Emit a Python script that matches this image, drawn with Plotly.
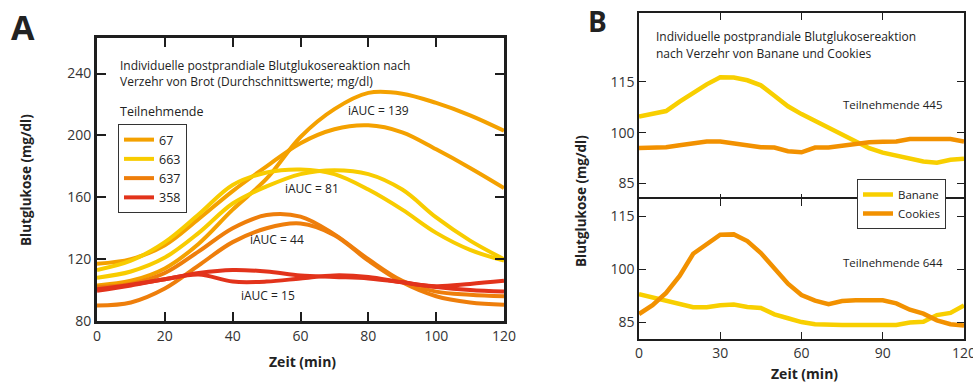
import plotly.graph_objects as go

W, H = 973, 382
FONT = "Open Sans"


def fx(px):
    return px / W


def fy(py):
    return 1 - py / H


# ---------------- Panel A data (mean glucose after bread) ----------------
t_a = [0, 10, 20, 30, 40, 50, 60, 70, 80, 90, 100, 110, 120]
p67_a = [103, 106, 114, 130, 152, 172, 199, 217, 227.5, 227, 221, 213, 203]
p67_b = [117, 120, 129, 146, 164, 180, 195, 204, 206.5, 202, 191, 179, 166]
p663_a = [113, 119, 131, 149, 168, 176, 178, 175, 165, 152, 137, 126, 119]
p663_b = [108, 112, 121, 137, 156, 167, 175, 177.5, 175, 165, 147, 132, 120]
p637_a = [102, 104, 111, 125, 140, 148.5, 147.5, 136, 120, 106, 99, 97, 96]
p637_b = [90, 92, 101, 116, 131, 140, 143, 135.5, 119, 105, 96, 92, 90.5]
p358_a = [100.5, 103.5, 107, 111, 113, 112, 109.5, 108.5, 107.5, 105, 102, 100, 99]
p358_b = [99.5, 103, 107, 110, 105.5, 105.5, 107.5, 109.5, 108.5, 105, 102.5, 104, 106]

series_a = [
    ("67", [p67_a, p67_b], "#F4A100"),
    ("663", [p663_a, p663_b], "#F8CC00"),
    ("637", [p637_a, p637_b], "#EE7E0B"),
    ("358", [p358_a, p358_b], "#E2331B"),
]

iauc_labels = ["iAUC = 139", "iAUC = 81", "iAUC = 44", "iAUC = 15"]
iauc_t = [83, 63.5, 53, 50.3]
iauc_g = [216, 165.6, 132.7, 96.8]

# ---------------- Panel B data (banana vs cookies) ----------------
t_b = [0, 5, 10, 15, 20, 25, 30, 35, 40, 45, 50, 55, 60, 65, 70, 75, 80, 85, 90,
       95, 100, 105, 110, 115, 120]
banane_445 = [104.8, 105.6, 106.4, 109.2, 111.9, 114.3, 116.4, 116.3, 115.5, 114.0,
              110.9, 107.8, 105.5, 103.5, 101.5, 99.3, 97.3, 95.4, 94.1, 93.2,
              92.4, 91.5, 91.1, 92.0, 92.3]
cookies_445 = [95.5, 95.6, 95.7, 96.3, 96.7, 97.4, 97.4, 96.8, 96.5, 95.7, 95.6,
               94.5, 94.2, 95.6, 95.6, 96.1, 96.6, 97.2, 97.3, 97.4, 98.1, 98.1,
               98.1, 98.1, 97.4]
banane_644 = [92.9, 91.9, 91.0, 90.1, 89.2, 89.2, 89.8, 90.0, 89.3, 89.0, 87.2,
              86.1, 85.0, 84.4, 84.2, 84.2, 84.2, 84.2, 84.2, 84.2, 84.9, 85.1,
              87.0, 87.6, 89.7]
cookies_644 = [87.3, 89.8, 93.3, 98.1, 104.4, 107.3, 109.8, 109.9, 108.0, 104.6,
               100.3, 95.9, 92.7, 91.1, 90.1, 91.0, 91.2, 91.2, 91.2, 90.3, 88.5,
               87.4, 85.5, 84.4, 84.0]
food_names = ["Banane", "Cookies"]
food_colors = ["#F8CF00", "#F29100"]

xticks_a = [0, 20, 40, 60, 80, 100, 120]
yticks_a = [80, 120, 160, 200, 240]
xticks_b = [0, 30, 60, 90, 120]
yticks_b = [85, 100, 115]

fig = go.Figure()

# Panel A traces
for name, curves, color in series_a:
    for i, vals in enumerate(curves):
        fig.add_trace(go.Scatter(
            x=t_a, y=vals, mode="lines", name=name, legendgroup=name,
            showlegend=(i == 0), line=dict(color=color, width=4, shape="spline"),
            xaxis="x", yaxis="y", legend="legend", hoverinfo="skip"))

# Panel B traces
for (bv, cv, ax) in [(banane_445, cookies_445, ("x2", "y2")),
                     (banane_644, cookies_644, ("x3", "y3"))]:
    for j, vals in enumerate([bv, cv]):
        fig.add_trace(go.Scatter(
            x=t_b, y=vals, mode="lines", name=food_names[j],
            legendgroup=food_names[j], showlegend=(ax[0] == "x2"),
            line=dict(color=food_colors[j], width=4.5),
            xaxis=ax[0], yaxis=ax[1], legend="legend2", hoverinfo="skip"))

ax_common = dict(showgrid=False, zeroline=False, ticks="inside", mirror="ticks",
                 showline=True, linecolor="#1e1e1e", tickcolor="#1e1e1e",
                 automargin=False, ticklabeloverflow="allow",
                 tickfont=dict(family=FONT, size=14, color="#333333"))

LW_B = 1.5
fig.update_layout(
    template="none",
    width=W, height=H, margin=dict(l=0, r=0, t=0, b=0, pad=0, autoexpand=False),
    paper_bgcolor="white", plot_bgcolor="white",
    font=dict(family=FONT, color="#222222"),
    xaxis=dict(domain=[fx(97), fx(504)], range=[0, 120], tickvals=xticks_a,
               anchor="y", linewidth=3, ticklen=9, tickwidth=1.5, **ax_common),
    yaxis=dict(domain=[fy(321), fy(38)], range=[80, 263], tickvals=yticks_a,
               anchor="x", linewidth=3, ticklen=9, tickwidth=1.5, **ax_common),
    xaxis2=dict(domain=[fx(639), fx(964)], range=[0, 120], tickvals=xticks_b,
                anchor="y2", showticklabels=False, linewidth=LW_B, ticklen=7,
                tickwidth=1.2, **ax_common),
    yaxis2=dict(domain=[fy(200.3), fy(13)], range=[80, 135.4], tickvals=yticks_b,
                anchor="x2", linewidth=LW_B, ticklen=7, tickwidth=1.2, **ax_common),
    xaxis3=dict(domain=[fx(639), fx(964)], range=[0, 120], tickvals=xticks_b,
                anchor="y3", linewidth=LW_B, ticklen=7, tickwidth=1.2, **ax_common),
    yaxis3=dict(domain=[fy(339), fy(198.8)], range=[80.2, 120], tickvals=yticks_b,
                anchor="x3", linewidth=LW_B, ticklen=7, tickwidth=1.2, **ax_common),
    legend=dict(x=fx(118), y=fy(124), xanchor="left", yanchor="top",
                bgcolor="white", bordercolor="#333333", borderwidth=1,
                font=dict(family=FONT, size=12.5, color="#222222"),
                itemwidth=30, tracegroupgap=0, entrywidth=36,
                entrywidthmode="pixels"),
    legend2=dict(x=fx(857), y=fy(179), xanchor="left", yanchor="top",
                 bgcolor="white", bordercolor="#333333", borderwidth=1,
                 font=dict(family=FONT, size=11.5, color="#222222"),
                 itemwidth=30, tracegroupgap=0),
)

ann = []


def paper_text(text, x, y, size=12, xanchor="left", weight=400, angle=0):
    ann.append(dict(text=text, x=fx(x), y=fy(y), xref="paper", yref="paper",
                    xanchor=xanchor, yanchor="middle", showarrow=False,
                    textangle=angle,
                    font=dict(family=FONT, size=size, color="#222222",
                              weight=weight)))


paper_text("A", 9, 27, size=34, weight=700)
paper_text("B", 586, 21, size=28, weight=700)
paper_text("Individuelle postprandiale Blutglukosereaktion nach", 118, 65, 12)
paper_text("Verzehr von Brot (Durchschnittswerte; mg/dl)", 118, 82, 12)
paper_text("Teilnehmende", 118, 111, 12.5)
paper_text("Individuelle postprandiale Blutglukosereaktion", 654, 37, 12)
paper_text("nach Verzehr von Banane und Cookies", 654, 53, 12)
paper_text("Teilnehmende 445", 945, 104, 11.5, xanchor="right")
paper_text("Teilnehmende 644", 945, 262, 11.5, xanchor="right")
paper_text("Blutglukose (mg/dl)", 26, 180, 13.5, xanchor="center", weight=700, angle=-90)
paper_text("Blutglukose (mg/dl)", 581, 201, 13.5, xanchor="center", weight=700, angle=-90)
paper_text("Zeit (min)", 302, 361, 14, xanchor="center", weight=700)
paper_text("Zeit (min)", 804, 373, 14, xanchor="center", weight=700)

for lab, tx, gy in zip(iauc_labels, iauc_t, iauc_g):
    ann.append(dict(text=lab, x=tx, y=gy, xref="x", yref="y", showarrow=False,
                    xanchor="center", yanchor="middle",
                    font=dict(family=FONT, size=12, color="#222222")))

fig.update_layout(annotations=ann)
fig.write_html(
    "out.html",
    config={"displayModeBar": False},
    post_script="document.body.style.margin='0px';document.body.style.overflow='hidden';",
)
